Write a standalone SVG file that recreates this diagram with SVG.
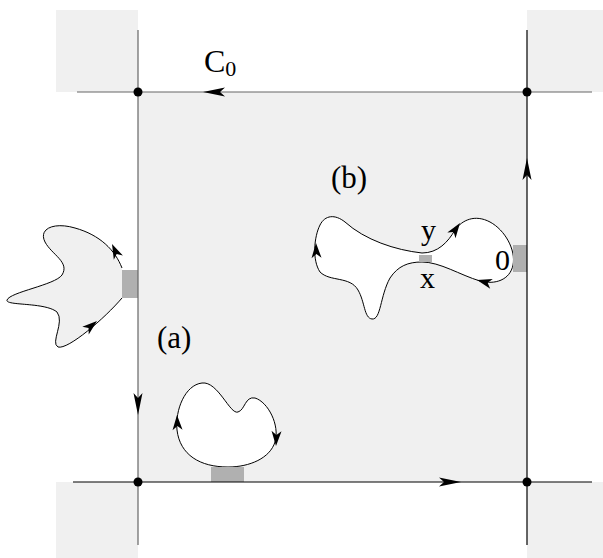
<svg xmlns="http://www.w3.org/2000/svg" width="603" height="558" viewBox="0 0 603 558">
<style>
.pale{fill:#f0f0f0;stroke:none}
.stub{fill:#b0b0b0;stroke:none}
.blob{stroke:#000;stroke-width:1}
.ln{fill:none;stroke-width:1.2}
.g{stroke:#666}
.k{stroke:#000}
.lbl{font-family:"Liberation Serif","Times New Roman",serif;font-size:30px;fill:#000}
.ah{fill:#000}
</style>
<defs>
<path id="big" d="M0,0 L-22,-4.5 L-17,0 L-22,4.5 Z"/>
<path id="sm" d="M0,0 L-15,-5 L-11,0 L-15,5 Z"/>
</defs>
<g id="background">
<rect class="pale" x="56" y="10" width="82" height="82"/>
<rect class="pale" x="527" y="10" width="76" height="82"/>
<rect class="pale" x="56" y="482" width="82" height="76"/>
<rect class="pale" x="527" y="482" width="76" height="76"/>
<rect class="pale" x="138" y="92" width="389" height="390"/>
</g>
<g id="blob-left">
<path class="blob" fill="#f0f0f0" d="M122,268 C115,250 100,235 75,228 C55,222 38,228 45,242 C52,255 70,262 62,275 C55,285 10,292 7,300 C5,306 45,302 57,312 C65,322 50,343 58,347 C68,350 105,318 122,298"/>
<rect class="stub" x="122" y="270" width="16" height="28"/>
<use href="#sm" class="ah" transform="translate(112,244) rotate(-115)"/>
<use href="#sm" class="ah" transform="translate(97,321) rotate(-40)"/>
</g>
<g id="blob-a">
<path class="blob" fill="#fff" d="M228,467 C200,467 180,455 177,430 C175,410 185,385 202,383 C218,381 230,415 238,412 C245,410 245,396 255,398 C268,402 280,425 275,442 C270,458 250,467 228,467 Z"/>
<rect class="stub" x="211" y="467" width="33" height="15"/>
<use href="#sm" class="ah" transform="translate(177,415) rotate(-92)"/>
<use href="#sm" class="ah" transform="translate(276,446) rotate(92)"/>
</g>
<g id="blob-b">
<path class="blob" fill="#fff" d="M422,253 C395,250 365,240 345,222 C335,214 325,215 320,225 C314,237 312,260 320,272 C330,282 350,276 358,290 C365,302 364,318 372,319 C381,320 380,296 390,278 C398,266 408,262 422,262 C440,262 460,275 480,281 C495,285 510,280 513,265 C516,250 505,230 490,222 C475,214 462,220 455,230 C448,242 438,253 422,253 Z"/>
<rect class="stub" x="419" y="255" width="13" height="7"/>
<rect class="stub" x="513" y="245" width="14" height="27"/>
<use href="#sm" class="ah" transform="translate(316,243) rotate(-92)"/>
<use href="#sm" class="ah" transform="translate(460,223) rotate(-55)"/>
<use href="#sm" class="ah" transform="translate(477,280) rotate(195)"/>
</g>
<g id="connectors">
<line class="ln g" x1="77" y1="92" x2="592" y2="92"/>
<line class="ln g" x1="138" y1="30" x2="138" y2="545"/>
<line class="ln k" x1="527" y1="30" x2="527" y2="545"/>
<line class="ln k" x1="73" y1="482" x2="592" y2="482"/>
<use href="#big" class="ah" transform="translate(203,92) rotate(180)"/>
<use href="#big" class="ah" transform="translate(138,415) rotate(90)"/>
<use href="#big" class="ah" transform="translate(461,482)"/>
<use href="#big" class="ah" transform="translate(527,158) rotate(-90)"/>
</g>
<g id="corners">
<circle cx="138" cy="92" r="4.5" fill="#000"/>
<circle cx="527" cy="92" r="4.5" fill="#000"/>
<circle cx="138" cy="482" r="4.5" fill="#000"/>
<circle cx="527" cy="482" r="4.5" fill="#000"/>
</g>
<g id="labels">
<text class="lbl" x="204" y="72" font-size="32" style="font-size:32px">C<tspan style="font-size:22px" dy="4">0</tspan></text>
<text class="lbl" x="331" y="188" style="font-size:31px">(b)</text>
<text class="lbl" x="157" y="348" style="font-size:31px">(a)</text>
<text class="lbl" x="421" y="240">y</text>
<text class="lbl" x="420" y="288">x</text>
<text class="lbl" x="495" y="270">0</text>
</g>
</svg>
